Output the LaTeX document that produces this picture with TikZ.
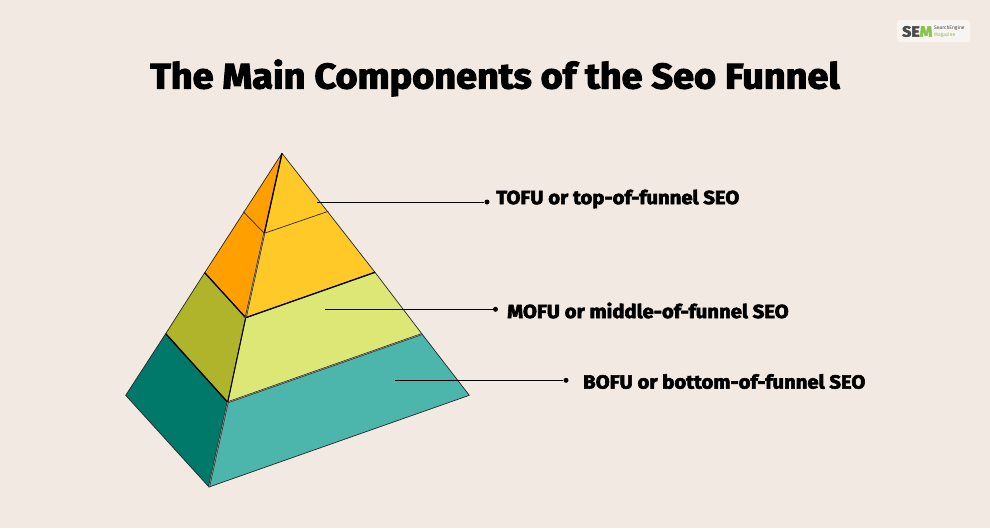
\documentclass[tikz,border=0pt]{standalone}
\usepackage{fontspec}
\setmainfont{Fira Sans}[BoldFeatures={FakeBold=3.2,FakeStretch=1.066}]
\usepackage{tikz}
\usetikzlibrary{positioning}

\definecolor{bgcol}{HTML}{F2E9E3}
\definecolor{topcol}{HTML}{FFCA28}
\definecolor{topside}{HTML}{FFA000}
\definecolor{midcol}{HTML}{DCE775}
\definecolor{midside}{HTML}{AFB42B}
\definecolor{botcol}{HTML}{4DB6AC}
\definecolor{botside}{HTML}{00796B}
\definecolor{semgreen}{HTML}{8BC34A}
\definecolor{semgrey}{HTML}{4A4A4A}

\tikzset{
    face/.style={draw=black!85, line width=0.7pt, line join=round},
    seam/.style={draw=black, line width=1.3pt},
    ridge/.style={draw=black!85, line width=0.5pt, double=black!45, double distance=0.7pt},
    leader/.style={draw=black, line width=0.8pt},
    tip/.style={circle, fill=black, inner sep=0pt, minimum size=5pt},
    tag/.style={font=\fontsize{19}{22}\selectfont\bfseries, inner sep=0pt}
}

\begin{document}
\begin{tikzpicture}[x=1pt,y=-1pt]
    \useasboundingbox (0,0) rectangle (990,528);
    \fill[bgcol] (0,0) rectangle (990,528);

    \node[font=\fontsize{35.5}{40}\selectfont\bfseries, inner sep=0pt] (title) at (495,78) {The Main Components of the Seo Funnel};

    % logo
    \node[fill=white!50!bgcol, rounded corners=3pt, minimum width=73pt, minimum height=22pt, inner sep=0pt] (logo) at (933.5,31) {};
    \node[font=\fontsize{15}{15}\selectfont\bfseries, text=semgrey, inner sep=0pt, anchor=west] (sem) at (902,31.5) {SE\textcolor{semgreen}{M}};
    \node[font=\fontsize{5}{6.5}\selectfont, text=semgrey, align=left, inner sep=0pt, anchor=west] (engine) at (934,31.5) {SearchEngine\\\textcolor{semgreen}{Magazine}};

    % pyramid corners
    \coordinate (apex) at (282,153.3);
    \coordinate (l1) at (243.3,211.7);
    \coordinate (l2) at (204.7,272.7);
    \coordinate (l3) at (165.7,333.7);
    \coordinate (l4) at (125.7,395.3);
    \coordinate (f1) at (264.3,233.3);
    \coordinate (f2) at (245.7,317.7);
    \coordinate (f3) at (227.7,402.3);
    \coordinate (f4) at (209,487);
    \coordinate (r1) at (328.3,211.3);
    \coordinate (r2) at (375,272.3);
    \coordinate (r3) at (422,334);
    \coordinate (r4) at (469.3,395.3);

    % faces
    \path[face, fill=topside] (apex) -- (l2) -- (f2) -- cycle;
    \path[face, fill=midside] (l2) -- (l3) -- (f3) -- (f2) -- cycle;
    \path[face, fill=botside] (l3) -- (l4) -- (f4) -- (f3) -- cycle;
    \path[face, fill=topcol] (apex) -- (r2) -- (f2) -- cycle;
    \path[face, fill=midcol] (r2) -- (r3) -- (f3) -- (f2) -- cycle;
    \path[face, fill=botcol] (r3) -- (r4) -- (f4) -- (f3) -- cycle;

    % seams between the bands
    \draw[face] (l1) -- (f1) -- (r1);
    \draw[seam] (l2) -- (f2) -- (r2);
    \draw[seam] (l3) -- (f3);
    \draw[ridge] (f3) -- (r3);
    \draw[seam] (apex) -- (f1);
    \draw[ridge] (f1) -- (f2);
    \draw[seam, line width=1pt] (f2) -- (f3);
    \draw[ridge] (f3) -- (f4);

    % labels
    \coordinate (topstart) at (317,202);
    \coordinate (midstart) at (325,309.3);
    \coordinate (botstart) at (395,380.3);
    \node[tip] (toptip) at (487,202) {};
    \node[tip] (midtip) at (495.5,309.3) {};
    \node[tip] (bottip) at (566,380.3) {};
    \node[tag, anchor=west] (toptag) at (496,199) {TOFU or top-of-funnel SEO};
    \node[tag, anchor=west] (midtag) at (507,310.5) {MOFU or middle-of-funnel SEO};
    \node[tag, anchor=west] (bottag) at (583,381.5) {BOFU or bottom-of-funnel SEO};
    \draw[leader] (topstart) -- (toptip);
    \draw[leader] (midstart) -- (midtip);
    \draw[leader] (botstart) -- (bottip);
\end{tikzpicture}
\end{document}
